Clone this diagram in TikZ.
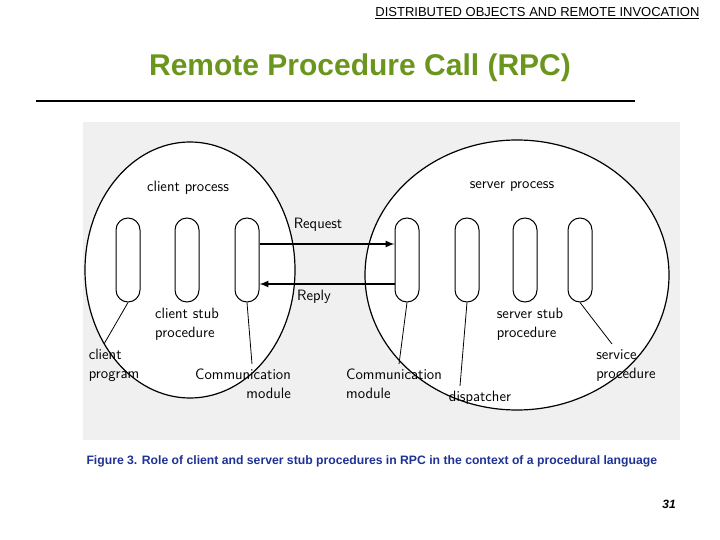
\documentclass[tikz,border=0pt]{standalone}
\usepackage{fontspec}
\setmainfont{Liberation Sans}
\begin{document}
\begin{tikzpicture}[x=1pt,y=-1pt,
  pill/.style={draw,line width=1pt,rounded corners=12pt,minimum width=24pt,minimum height=84pt,inner sep=0pt},
  lab/.style={font=\fontsize{15}{19}\selectfont\sffamily,inner sep=1pt,anchor=north},
  ptr/.style={line width=0.8pt},
  arr/.style={line width=2pt,-latex}]
\useasboundingbox (0,0) rectangle (720,540);
\fill[black!6] (83,122) rectangle (680,440);
\node[font=\fontsize{13}{14}\selectfont,anchor=east] (hdr) at (703,13) {\underline{DISTRIBUTED OBJECTS AND REMOTE INVOCATION}};
\node[font=\fontsize{30}{32}\selectfont\bfseries,text={rgb,255:red,107;green,150;blue,30}] (title) at (360,68) {Remote Procedure Call (RPC)};
\draw[line width=2.5pt] (36,101) coordinate (l1) -- (635,101) coordinate (l2);
\draw[line width=1.2pt,fill=white] (190,270) ellipse (105 and 128);
\draw[line width=1.2pt,fill=white] (517,275) ellipse (152 and 135);
\node[pill] (c1) at (128,260) {};
\node[pill] (c2) at (187,260) {};
\node[pill] (c3) at (247,260) {};
\node[pill] (s1) at (407,260) {};
\node[pill] (s2) at (467,260) {};
\node[pill] (s3) at (525,260) {};
\node[pill] (s4) at (580,260) {};
\draw[arr] (c3.east|-0,244) -- (s1.west|-0,244);
\draw[arr] (s1.west|-0,284) -- (c3.east|-0,284);
\node[lab] (req) at (318,217) {Request};
\node[lab] (rep) at (314,289) {Reply};
\node[lab] (cp) at (188,180) {client process};
\node[lab] (sp) at (512,180) {server process};
\node[lab,align=left] (cs) at (187,307) {client stub\\procedure};
\node[lab,align=left] (cl) at (114,348) {client\\program};
\node[lab,align=right] (cm) at (243,368) {Communication\\module};
\node[lab,align=left] (cm2) at (394,368) {Communication\\module};
\node[lab] (ds) at (480,390) {dispatcher};
\node[lab,align=left] (ss) at (530,307) {server stub\\procedure};
\node[lab,align=left] (sv) at (626,348) {service\\procedure};
\draw[ptr] (c1.south) -- (104,344);
\draw[ptr] (c3.south) -- (252,364);
\draw[ptr] (s1.south) -- (399,364);
\draw[ptr] (s2.south) -- (460,386);
\draw[ptr] (s4.south) -- (612,344);
\node[font=\fontsize{12.2}{13}\selectfont\bfseries,text={rgb,255:red,30;green,50;blue,150},anchor=west] (cap) at (83,461) {Figure 3. Role of client and server stub procedures in RPC in the context of a procedural language};
\node[font=\fontsize{12}{13}\selectfont\bfseries\itshape] (pg) at (669,504) {31};
\end{tikzpicture}
\end{document}
